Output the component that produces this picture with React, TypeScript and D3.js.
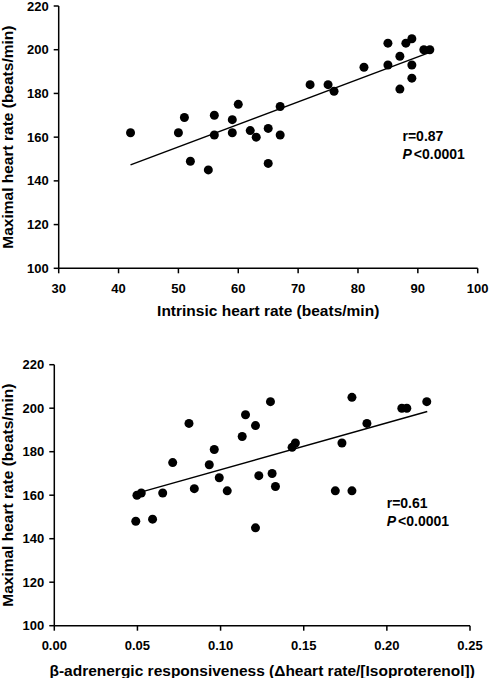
import React from "react";
import * as d3 from "d3";

// Panel A: intrinsic heart rate vs maximal heart rate
const intrinsicHR = [42, 50, 51, 52, 55, 56, 56, 59, 59, 60, 62, 63, 65, 65, 67, 67, 72, 75, 76, 81, 85, 85, 87, 87, 88, 89, 89, 89, 91, 92];
const maxHR_A = [162, 162, 169, 149, 145, 170, 161, 168, 162, 175, 163, 160, 164, 148, 174, 161, 184, 184, 181, 192, 203, 193, 197, 182, 203, 205, 193, 187, 200, 200];
const fitA_x = [42, 92];
const fitA_y = [147.3, 198.8];

// Panel B: beta-adrenergic responsiveness vs maximal heart rate
const betaResp = [0.049, 0.0497, 0.0523, 0.0591, 0.0652, 0.0712, 0.081, 0.0842, 0.0932, 0.0962, 0.0992, 0.104, 0.113, 0.115, 0.121, 0.121, 0.123, 0.130, 0.131, 0.133, 0.143, 0.145, 0.169, 0.173, 0.179, 0.179, 0.188, 0.209, 0.212, 0.224];
const maxHR_B = [148, 160, 161, 149, 161, 175, 193, 163, 174, 181, 168, 162, 187, 197, 192, 145, 169, 203, 170, 164, 182, 184, 162, 184, 205, 162, 193, 200, 200, 203];
const fitB_x = [0.0515, 0.2243];
const fitB_y = [161.3, 198.5];

const yTicks = [100, 120, 140, 160, 180, 200, 220];
const xTicksA = [30, 40, 50, 60, 70, 80, 90, 100];
const xTicksB = [0, 0.05, 0.1, 0.15, 0.2, 0.25];

const FONT = "'Liberation Sans', Arial, Helvetica, sans-serif";

type PanelProps = {
  xs: number[];
  ys: number[];
  fitX: number[];
  fitY: number[];
  xDomain: [number, number];
  xTicks: number[];
  xFmt: (v: number) => string;
  left: number;
  right: number;
  top: number;
  bottom: number;
  xTitle: React.ReactNode;
  xTitleY: number;
  rText: string;
  annX: number;
  annY: number;
};

function Panel(p: PanelProps) {
  const x = d3.scaleLinear().domain(p.xDomain).range([p.left, p.right]);
  const y = d3.scaleLinear().domain([100, 220]).range([p.bottom, p.top]);
  const line = d3.line<number>().x((_, i) => x(p.fitX[i])).y((_, i) => y(p.fitY[i]));
  const cx = (p.left + p.right) / 2;
  const cy = (p.top + p.bottom) / 2;
  return (
    <g fontFamily={FONT} fontWeight="bold" fill="#000">
      <line x1={p.left} x2={p.left} y1={p.top} y2={p.bottom} stroke="#000" strokeWidth={1.5} />
      <line x1={p.left} x2={p.right} y1={p.bottom} y2={p.bottom} stroke="#000" strokeWidth={1.5} />
      {yTicks.map((t) => (
        <g key={"y" + t}>
          <line x1={p.left - 5} x2={p.left} y1={y(t)} y2={y(t)} stroke="#000" strokeWidth={1.5} />
          <text x={p.left - 10} y={y(t)} dy="0.35em" textAnchor="end" fontSize={13}>
            {t}
          </text>
        </g>
      ))}
      {p.xTicks.map((t) => (
        <g key={"x" + t}>
          <line x1={x(t)} x2={x(t)} y1={p.bottom} y2={p.bottom + 5} stroke="#000" strokeWidth={1.5} />
          <text x={x(t)} y={p.bottom + 24.5} textAnchor="middle" fontSize={13}>
            {p.xFmt(t)}
          </text>
        </g>
      ))}
      <text
        transform={`translate(13,${cy}) rotate(-90)`}
        textAnchor="middle"
        fontSize={15.5}
      >
        Maximal heart rate (beats/min)
      </text>
      <text x={cx} y={p.xTitleY} textAnchor="middle" fontSize={15.5}>
        {p.xTitle}
      </text>
      <path d={line(p.fitX) || ""} fill="none" stroke="#000" strokeWidth={1.5} />
      {p.xs.map((v, i) => (
        <circle key={i} cx={x(v)} cy={y(p.ys[i])} r={4.5} fill="#000" />
      ))}
      <text x={p.annX} y={p.annY} fontSize={14}>
        {p.rText}
      </text>
      <text x={p.annX} y={p.annY + 18} fontSize={14}>
        <tspan fontStyle="italic">P</tspan>
        <tspan dx={2}>{"<0.0001"}</tspan>
      </text>
    </g>
  );
}

export default function App() {
  return (
    <svg
      width={490}
      height={678}
      style={{ position: "absolute", left: 0, top: 0, background: "#fff" }}
    >
      <rect width={490} height={678} fill="#fff" />
      <Panel
        xs={intrinsicHR}
        ys={maxHR_A}
        fitX={fitA_x}
        fitY={fitA_y}
        xDomain={[30, 100]}
        xTicks={xTicksA}
        xFmt={(v) => String(v)}
        left={58.7}
        right={477.7}
        top={6}
        bottom={268.3}
        xTitle="Intrinsic heart rate (beats/min)"
        xTitleY={315.5}
        rText="r=0.87"
        annX={402.5}
        annY={141}
      />
      <Panel
        xs={betaResp}
        ys={maxHR_B}
        fitX={fitB_x}
        fitY={fitB_y}
        xDomain={[0, 0.25]}
        xTicks={xTicksB}
        xFmt={(v) => d3.format(".2f")(v)}
        left={54.3}
        right={470}
        top={364.7}
        bottom={625.7}
        xTitle="β-adrenergic responsiveness (Δheart rate/[Isoproterenol])"
        xTitleY={675.5}
        rText="r=0.61"
        annX={386.7}
        annY={508}
      />
    </svg>
  );
}
